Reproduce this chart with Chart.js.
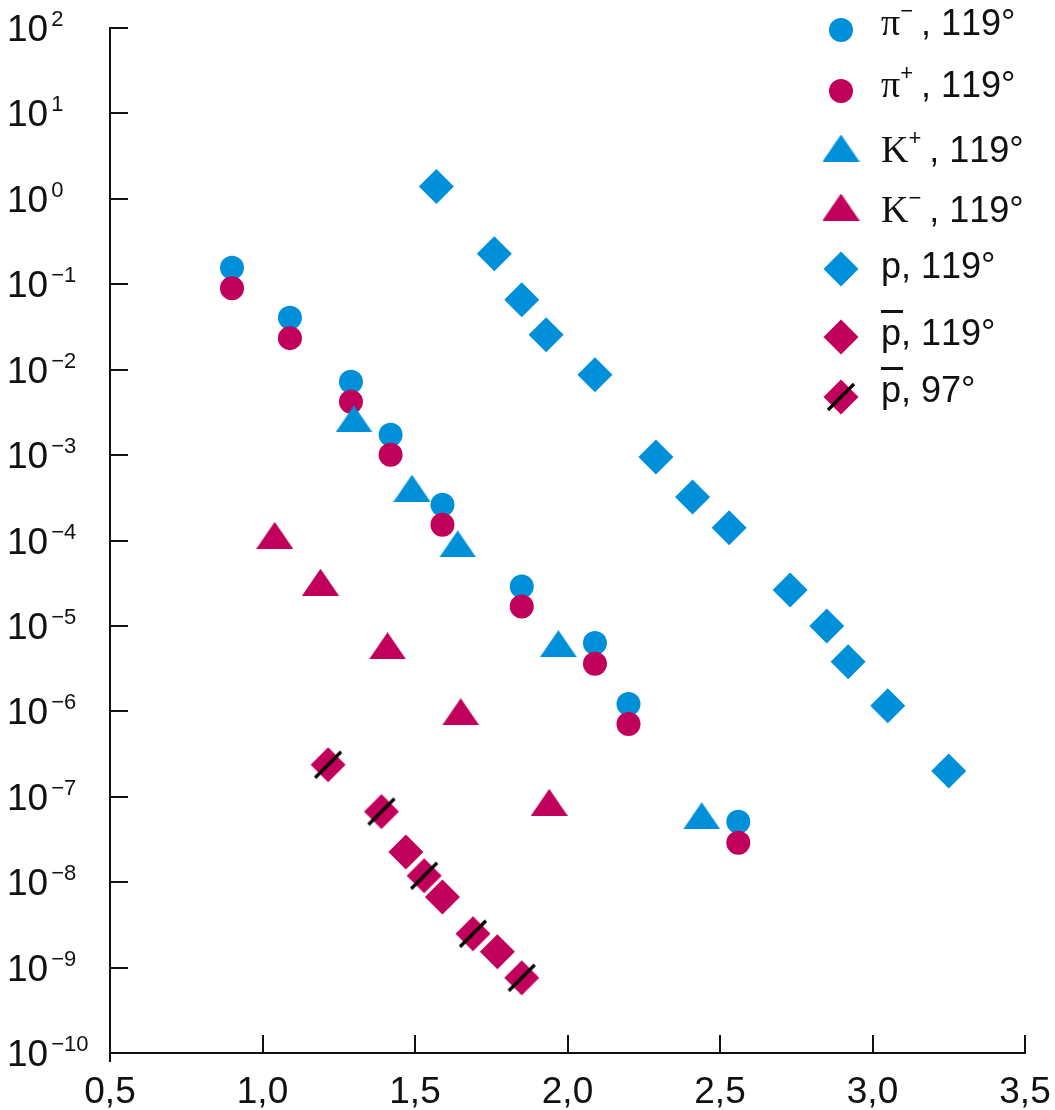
<!DOCTYPE html>
<html>
<head>
<meta charset="utf-8">
<title>Invariant cross sections, 119° and 97°</title>
<script src="https://cdn.jsdelivr.net/npm/chart.js@4.4.1/dist/chart.umd.min.js"></script>
<style>
  html, body { margin: 0; padding: 0; background: #fff; }
  #wrap { width: 1055px; height: 1110px; }
</style>
</head>
<body>
<div id="wrap"><canvas id="chart" width="1055" height="1110"></canvas></div>
<script>
const BLUE = '#0090d9';
const RED = '#c0005a';
const INK = '#111';
const SANS = '"Liberation Sans", Arial, sans-serif';
const SERIF = '"Liberation Serif", "Times New Roman", serif';

// axes
const xTicks = [0.5, 1.0, 1.5, 2.0, 2.5, 3.0, 3.5];
const yExps = [2, 1, 0, -1, -2, -3, -4, -5, -6, -7, -8, -9, -10];

// series
const seriesNames = ['π⁻, 119°', 'π⁺, 119°', 'K⁺, 119°', 'K⁻, 119°', 'p, 119°', 'p\u0305, 119°', 'p\u0305, 97°'];

const piX = [0.90, 1.09, 1.29, 1.42, 1.59, 1.85, 2.09, 2.20, 2.56];
const piMinusY = [0.156, 0.0405, 7.2e-3, 1.73e-3, 2.62e-4, 2.89e-5, 6.3e-6, 1.22e-6, 5.1e-8];
const piPlusY = [0.090, 0.0234, 4.2e-3, 1.01e-3, 1.53e-4, 1.69e-5, 3.6e-6, 7.1e-7, 2.9e-8];

const kPlusX = [1.30, 1.49, 1.64, 1.97, 2.44];
const kPlusY = [2.65e-3, 4.1e-4, 9.1e-5, 6.2e-6, 6.0e-8];

const kMinusX = [1.04, 1.19, 1.41, 1.65, 1.94];
const kMinusY = [1.15e-4, 3.25e-5, 5.85e-6, 9.9e-7, 8.6e-8];

const pX = [1.57, 1.76, 1.85, 1.93, 2.09, 2.29, 2.41, 2.53, 2.73, 2.85, 2.92, 3.05, 3.25];
const pY = [1.39, 0.228, 0.066, 0.0256, 8.7e-3, 9.5e-4, 3.24e-4, 1.41e-4, 2.64e-5, 1.0e-5, 3.8e-6, 1.16e-6, 2.0e-7];

const pbar119X = [1.47, 1.59, 1.77];
const pbar119Y = [2.26e-8, 6.7e-9, 1.53e-9];

const pbar97X = [1.215, 1.39, 1.53, 1.69, 1.85];
const pbar97Y = [2.37e-7, 6.7e-8, 1.19e-8, 2.49e-9, 7.6e-10];

// legend rows: marker centre and text baseline
const legendMarkY = [30, 91, 148, 207, 269, 337, 397];
const legendTextY = [35, 97, 162, 222, 278, 345, 402];

function pts(xs, ys) { return xs.map((x, i) => ({ x, y: ys[i] })); }

function triangleImg(color) {
  const c = document.createElement('canvas');
  c.width = 37; c.height = 27;
  const g = c.getContext('2d');
  g.fillStyle = color;
  g.beginPath(); g.moveTo(0, 27); g.lineTo(18.5, 0); g.lineTo(37, 27); g.closePath(); g.fill();
  return c;
}

function slashedDiamondImg(color) {
  const c = document.createElement('canvas');
  c.width = 40; c.height = 40;
  const g = c.getContext('2d');
  g.fillStyle = color;
  g.beginPath(); g.moveTo(2.5, 20); g.lineTo(20, 2.5); g.lineTo(37.5, 20); g.lineTo(20, 37.5); g.closePath(); g.fill();
  g.strokeStyle = '#000'; g.lineWidth = 3.2; g.lineCap = 'butt';
  g.beginPath(); g.moveTo(7, 33); g.lineTo(33, 7); g.stroke();
  return c;
}

function series(i, xs, ys, style, color, radius) {
  return {
    label: seriesNames[i], data: pts(xs, ys), order: 10 - i,
    pointStyle: style, pointRadius: radius, pointHoverRadius: radius,
    backgroundColor: color, borderWidth: 0, pointBorderWidth: 0, showLine: false
  };
}

const datasets = [
  series(0, piX, piMinusY, 'circle', BLUE, 12),
  series(1, piX, piPlusY, 'circle', RED, 12),
  series(2, kPlusX, kPlusY, triangleImg(BLUE), BLUE, 16),
  series(3, kMinusX, kMinusY, triangleImg(RED), RED, 16),
  series(4, pX, pY, 'rectRot', BLUE, 17.5),
  series(5, pbar119X, pbar119Y, 'rectRot', RED, 17.5),
  series(6, pbar97X, pbar97Y, slashedDiamondImg(RED), RED, 17.5)
];

function line(ctx, x1, y1, x2, y2) {
  ctx.beginPath(); ctx.moveTo(x1, y1); ctx.lineTo(x2, y2); ctx.stroke();
}

// inward tick marks and 10^n labels
const axisDecor = {
  id: 'axisDecor',
  afterDraw(chart) {
    const ctx = chart.ctx, xs = chart.scales.x, ys = chart.scales.y;
    ctx.save();
    ctx.strokeStyle = INK; ctx.lineWidth = 2;
    xTicks.forEach(v => {
      const px = Math.round(xs.getPixelForValue(v));
      line(ctx, px, ys.bottom, px, ys.bottom - 18);
    });
    line(ctx, xs.left, ys.bottom, xs.left, ys.bottom + 9);
    ctx.fillStyle = INK; ctx.textAlign = 'left'; ctx.textBaseline = 'alphabetic';
    yExps.forEach(e => {
      const py = Math.round(ys.getPixelForValue(Math.pow(10, e)));
      line(ctx, xs.left, py, xs.left + 18, py);
      ctx.font = `37px ${SANS}`;
      ctx.fillText('10', 7, py + 13);
      const w = ctx.measureText('10').width;
      ctx.font = `22px ${SANS}`;
      ctx.fillText(e < 0 ? '\u2212' + (-e) : String(e), 7 + w + 3, py - 2);
    });
    ctx.restore();
  }
};

function drawMarker(ctx, ds, x, y) {
  const st = ds.pointStyle, r = ds.pointRadius;
  ctx.fillStyle = ds.backgroundColor;
  if (st instanceof HTMLCanvasElement) {
    ctx.drawImage(st, x - st.width / 2, y - st.height / 2);
  } else if (st === 'circle') {
    ctx.beginPath(); ctx.arc(x, y, r, 0, Math.PI * 2); ctx.fill();
  } else {
    ctx.beginPath(); ctx.moveTo(x - r, y); ctx.lineTo(x, y - r); ctx.lineTo(x + r, y); ctx.lineTo(x, y + r); ctx.closePath(); ctx.fill();
  }
}

// particle names: serif π/K, raised charge, bar over p
function drawName(ctx, name, x, y) {
  const chars = Array.from(name);
  let cx = x;
  chars.forEach((c, i) => {
    if (c === '\u0305') return;
    let font = `36px ${SANS}`, dy = 0, glyph = c;
    if (c === 'π' || c === 'K') font = `38px ${SERIF}`;
    else if (c === '⁻' || c === '⁺') { font = `22px ${SANS}`; dy = -17; glyph = c === '⁻' ? '\u2212' : '+'; }
    ctx.font = font;
    ctx.fillText(glyph, cx, y + dy);
    const w = ctx.measureText(glyph).width;
    if (chars[i + 1] === '\u0305') ctx.fillRect(cx, y - 35, w + 2, 3);
    cx += w + (dy ? 8 : 0);
  });
}

const legendDecor = {
  id: 'legendDecor',
  afterDraw(chart) {
    const ctx = chart.ctx;
    ctx.save();
    chart.data.datasets.forEach((ds, i) => {
      drawMarker(ctx, ds, 841, legendMarkY[i]);
      ctx.fillStyle = INK; ctx.textAlign = 'left'; ctx.textBaseline = 'alphabetic';
      drawName(ctx, ds.label, 881, legendTextY[i]);
    });
    ctx.restore();
  }
};

new Chart(document.getElementById('chart'), {
  type: 'scatter',
  data: { datasets },
  options: {
    responsive: false, animation: false, devicePixelRatio: 1,
    events: [],
    layout: { padding: { left: 110, top: 28, right: 30, bottom: 0 } },
    plugins: { legend: { display: false }, tooltip: { enabled: false } },
    scales: {
      x: {
        type: 'linear', min: 0.5, max: 3.5,
        afterBuildTicks: s => { s.ticks = xTicks.map(v => ({ value: v })); },
        afterFit: s => { s.height = 57; s.paddingLeft = 0; s.paddingRight = 0; },
        grid: { display: false, drawTicks: false },
        border: { display: true, color: INK, width: 2 },
        ticks: {
          padding: 18, color: INK, maxRotation: 0, autoSkip: false,
          font: { family: SANS, size: 37 },
          callback: v => Number(v).toFixed(1).replace('.', ',')
        }
      },
      y: {
        type: 'logarithmic', min: 1e-10, max: 1e2,
        afterBuildTicks: s => { s.ticks = yExps.map(e => ({ value: Math.pow(10, e) })); },
        afterFit: s => { s.width = 0; },
        grid: { display: false, drawTicks: false },
        border: { display: true, color: INK, width: 2 },
        ticks: { display: false }
      }
    }
  },
  plugins: [axisDecor, legendDecor]
});
</script>
</body>
</html>
